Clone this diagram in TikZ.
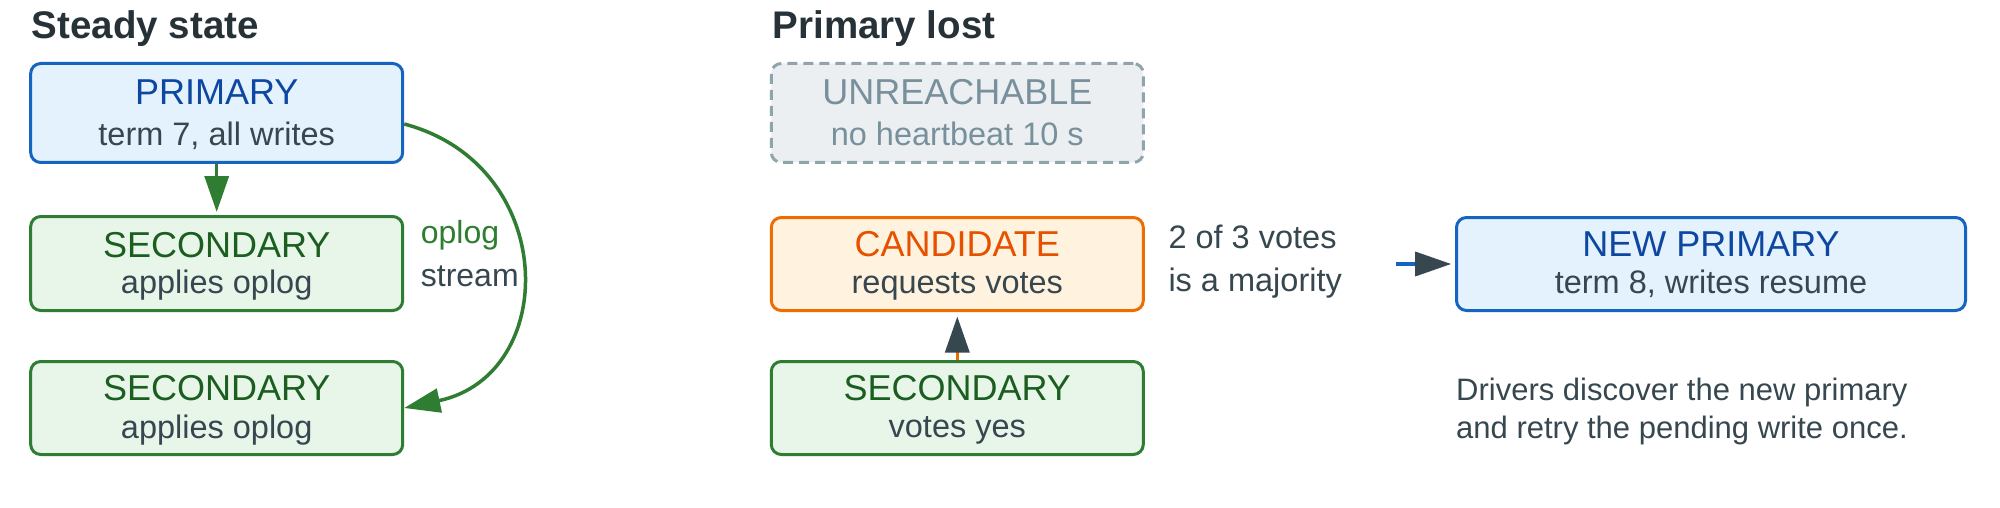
\documentclass[tikz,border=0pt]{standalone}
\usepackage{fontspec}
\setmainfont{Liberation Sans}
\usetikzlibrary{arrows.meta}
\definecolor{ttl}{HTML}{263238}
\definecolor{body}{HTML}{37474F}
\definecolor{pfill}{HTML}{E3F2FD}
\definecolor{pdraw}{HTML}{1565C0}
\definecolor{ptext}{HTML}{0D47A1}
\definecolor{sfill}{HTML}{E8F5E9}
\definecolor{sdraw}{HTML}{2E7D32}
\definecolor{stext}{HTML}{1B5E20}
\definecolor{cfill}{HTML}{FFF3E0}
\definecolor{cdraw}{HTML}{EF6C00}
\definecolor{ctext}{HTML}{E65100}
\definecolor{ufill}{HTML}{ECEFF1}
\definecolor{udraw}{HTML}{90A4AE}
\definecolor{utext}{HTML}{78909C}
\begin{document}
\begin{tikzpicture}[x=1pt,y=-1pt,
  box/.style={line width=3pt, rounded corners=10pt, minimum width=372pt, inner sep=0pt},
  pbox/.style={box, draw=pdraw, fill=pfill},
  sbox/.style={box, draw=sdraw, fill=sfill},
  cbox/.style={box, draw=cdraw, fill=cfill},
  ubox/.style={box, draw=udraw, fill=ufill, dash pattern=on 10pt off 6pt},
  lab/.style={font=\fontsize{36}{40}\selectfont, inner sep=0pt, anchor=base},
  sub/.style={font=\fontsize{32.5}{36}\selectfont, text=body, inner sep=0pt, anchor=base},
  note/.style={font=\fontsize{32.5}{36}\selectfont, text=body, inner sep=0pt, anchor=base west},
  ttlstyle/.style={font=\fontsize{38.5}{42}\selectfont\bfseries, text=ttl, inner sep=0pt, anchor=base west},
  conn/.style={line width=3.5pt}
]
\useasboundingbox[fill=white] (0,0) rectangle (2000,508);

% titles
\node[ttlstyle] (t1) at (31.7,38.3) {Steady state};
\node[ttlstyle] (t2) at (772.7,38.3) {Primary lost};

% left panel
\node[pbox, minimum height=99pt] (p) at (216.7,113) {};
\node[lab, text=ptext] (pl) at (216.7,105) {PRIMARY};
\node[sub] (ps) at (216.7,145.7) {term 7, all writes};

\node[sbox, minimum height=94pt] (s1) at (216.7,263.5) {};
\node[lab, text=stext] (s1l) at (216.7,257) {SECONDARY};
\node[sub] (s1s) at (216.7,293) {applies oplog};

\node[sbox, minimum height=93pt] (s2) at (216.7,408) {};
\node[lab, text=stext] (s2l) at (216.7,400.7) {SECONDARY};
\node[sub] (s2s) at (216.7,438) {applies oplog};

\draw[conn, draw=sdraw, -{Triangle[length=36pt,width=24pt,color=sdraw]}]
  (p.south) -- ([yshift=3pt]s1.north);
\draw[conn, draw=sdraw, -{Triangle[length=36pt,width=24pt,color=sdraw]}]
  ([yshift=-11pt]p.east) .. controls +(155,41) and +(156,-33) .. (s2.east);
\node[note, text=sdraw, font=\fontsize{32}{36}\selectfont] (ol) at (420.7,243) {oplog};
\node[note, font=\fontsize{32}{36}\selectfont] (st) at (420.7,286.7) {stream};

% middle panel
\node[ubox, minimum height=99pt] (u) at (957.3,113) {};
\node[lab, text=utext] (ul) at (957.3,105) {UNREACHABLE};
\node[sub, text=utext] (us) at (957.3,145.7) {no heartbeat 10 s};

\node[cbox, minimum height=93pt] (c) at (957.3,264) {};
\node[lab, text=ctext] (cl) at (957.3,256.7) {CANDIDATE};
\node[sub] (cs) at (957.3,293) {requests votes};

\node[sbox, minimum height=93pt] (v) at (957.3,408) {};
\node[lab, text=stext] (vl) at (957.3,400.3) {SECONDARY};
\node[sub] (vs) at (957.3,437.5) {votes yes};

\draw[conn, draw=cdraw, -{Triangle[length=36pt,width=24pt,color=body]}]
  (v.north) -- ([yshift=-4.5pt]c.south);

\node[note] (maj1) at (1168.3,248.3) {2 of 3 votes};
\node[note] (maj2) at (1168.3,291) {is a majority};

% right panel
\node[pbox, minimum width=509pt, minimum height=93pt] (n) at (1711,264) {};
\node[lab, text=ptext] (nl) at (1711,256.7) {NEW PRIMARY};
\node[sub] (ns) at (1711,293) {term 8, writes resume};

\coordinate (stub) at (1396,264);
\draw[conn, draw=pdraw, -{Triangle[length=36pt,width=24pt,color=body]}]
  (stub) -- ([xshift=-3.8pt]n.west);

\node[note, font=\fontsize{31}{35}\selectfont] (d1) at (1456,400) {Drivers discover the new primary};
\node[note, font=\fontsize{31}{35}\selectfont] (d2) at (1456,438.3) {and retry the pending write once.};
\end{tikzpicture}
\end{document}
